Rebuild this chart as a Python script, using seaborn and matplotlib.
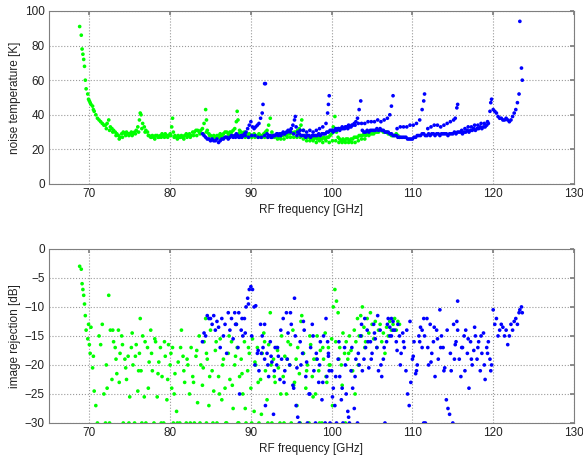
import matplotlib
matplotlib.use("Agg")
import matplotlib.pyplot as plt
import numpy as np
import pandas as pd
import seaborn as sns

# ---- measured data -------------------------------------------------------
# Green band: sweep A (fine steps) and sweep B (interleaved)
green_a_freq = [
    68.8, 69.0, 69.1, 69.2, 69.3, 69.4, 69.5, 69.6, 69.8, 69.9,
    70.0, 70.1, 70.2, 70.4, 70.5, 70.6, 70.8, 71.0, 71.2, 71.4,
    71.6, 71.8, 72.0, 72.2, 72.4, 72.6, 72.8, 73.0, 73.2, 73.4,
    73.6, 73.8, 74.0, 74.2, 74.4, 74.6, 74.8, 75.0, 75.2, 75.4,
    75.6, 75.8, 76.0, 76.2, 76.3, 76.4, 76.6, 76.8, 77.0, 77.2,
    77.4, 77.6, 77.8, 78.0, 78.2, 78.4, 78.6, 78.8, 79.0, 79.2,
    79.4, 79.6, 79.8, 80.0, 80.2, 80.3, 80.4, 80.6, 80.8, 81.0,
    81.2, 81.4, 81.6, 81.8, 82.0, 82.2, 82.4, 82.6, 82.8, 83.0,
    83.2, 83.4, 83.6, 83.8, 84.0, 84.2, 84.4, 84.5, 84.6, 84.8,
    85.0, 85.2, 85.4, 85.6, 85.8, 86.0, 86.2, 86.4, 86.6, 86.8,
    87.0, 87.2, 87.4, 87.6, 87.8, 88.0, 88.2, 88.3, 88.4, 88.6,
    88.8, 89.0, 89.2, 89.4, 89.6, 89.8, 90.0, 90.2, 90.4, 90.6,
    90.8, 91.0, 91.2, 91.4, 91.6, 91.8, 92.0, 92.2, 92.4, 92.6,
    92.8, 93.0, 93.2, 93.4, 93.6, 93.8, 94.0, 94.2, 94.4, 94.6,
    94.8, 95.0, 95.2, 95.4, 95.6, 95.8, 96.0, 96.2, 96.3, 96.5,
    96.8, 97.0, 97.2, 97.4, 97.6, 97.8, 98.0, 98.2, 98.4, 98.6,
    98.8, 99.0, 99.2, 99.4, 99.6, 99.8, 100.0, 100.2, 100.4, 100.6,
    100.8, 101.0, 101.2, 101.4, 101.6, 101.8, 102.0, 102.2, 102.4, 102.6,
    102.8, 103.0, 103.2, 103.4, 103.6, 103.8, 104.0, 104.2, 104.4, 104.6,
    104.8, 105.0, 105.2, 105.4, 105.6, 105.8, 106.0, 106.2, 106.4, 106.6,
    106.8, 107.0, 107.2, 107.4, 107.6, 107.8, 108.0, 108.2, 108.4,
]
green_a_tn = [
    91, 86, 78, 75, 72, 68, 60, 55, 52, 49,
    48, 47, 46, 45, 43, 42, 40, 38, 37, 36,
    35, 34, 34, 35, 37, 33, 32, 31, 30, 29,
    28, 27, 29, 30, 29, 30, 29, 29, 30, 29,
    30, 31, 33, 37, 41, 40, 35, 33, 31, 30,
    28, 27, 28, 27, 28, 28, 27, 28, 29, 28,
    29, 28, 28, 29, 33, 38, 30, 28, 27, 28,
    27, 28, 27, 28, 29, 28, 29, 28, 30, 30,
    31, 31, 30, 31, 32, 35, 43, 37, 31, 29,
    28, 27, 28, 27, 28, 28, 29, 28, 29, 30,
    30, 29, 30, 30, 31, 32, 36, 42, 37, 31,
    30, 29, 30, 29, 28, 29, 28, 28, 29, 28,
    28, 29, 28, 28, 29, 30, 31, 34, 38, 30,
    28, 28, 27, 28, 27, 28, 28, 29, 28, 29,
    29, 30, 29, 30, 30, 31, 32, 34, 37, 31,
    28, 27, 27, 26, 27, 26, 27, 26, 27, 26,
    26, 27, 26, 27, 27, 28, 29, 33, 39, 30,
    27, 26, 25, 26, 25, 26, 26, 25, 26, 26,
    27, 27, 27, 28, 28, 28, 29, 28, 29, 28,
    29, 29, 29, 30, 30, 30, 31, 31, 30, 30,
    30, 29, 29, 28, 28, 28, 29, 28, 27,
]
green_a_irr = [
    -3, -3.5, -6, -7, -8, -9.5, -11.5, -14, -15.5, -13,
    -16.5, -18, -13.5, -20.5, -18.5, -24.5, -27, -30, -15, -16.5,
    -13, -25, -30, -24, -8, -14, -22.5, -16, -17, -21.5,
    -14, -18, -15, -30, -19, -22.5, -18.5, -25.5, -17, -20,
    -30, -16.5, -24.5, -18, -12, -21, -15, -25.5, -30, -17,
    -19.5, -14, -21, -30, -16, -25.5, -19.5, -17, -22, -30,
    -18.5, -26, -16.5, -20, -24, -17, -30, -21.5, -28, -19.5,
    -30, -14, -18.5, -23, -30, -20, -25, -17, -22, -30,
    -18.5, -26.5, -15, -20, -23.5, -16, -12, -30, -19, -27,
    -14, -21, -24.5, -17.5, -30, -22, -15.5, -26, -19, -24,
    -30, -18, -22.5, -16, -27.5, -20, -13, -17, -30, -22,
    -19, -25, -16, -30, -21, -18, -24, -15.5, -28, -20,
    -17, -30, -22.5, -18, -14.5, -21, -26, -16.5, -11, -30,
    -19, -23, -17, -20.5, -30, -15, -22, -18.5, -25, -16,
    -20, -30, -14, -23, -19, -17, -21.5, -12.5, -11.5, -18,
    -24, -20, -30, -16.5, -22, -19, -25, -15, -21, -17.5,
    -30, -19, -14.5, -23, -17, -20, -15.5, -10, -7, -9,
    -11, -17, -20, -14.5, -18, -16, -19, -15, -17.5, -21,
    -14, -16, -12, -15, -11.5, -10, -13.5, -16, -12, -14.5,
    -11, -13, -15.5, -12.5, -17, -14, -13, -16, -14.5, -18,
    -13.5, -15, -12.5, -14, -13, -12, -14, -12.5, -13,
]

green_b_freq = [
    72.1, 72.5, 72.9, 73.3, 73.7, 74.1, 74.5, 74.9, 75.3, 75.7,
    76.1, 76.5, 76.9, 77.3, 77.7, 78.1, 78.5, 78.9, 79.3, 79.7,
    80.1, 80.5, 80.9, 81.3, 81.7, 82.1, 82.5, 82.9, 83.3, 83.7,
    84.1, 84.5, 84.9, 85.3, 85.7, 86.1, 86.5, 86.9, 87.3, 87.7,
    88.1, 88.5, 88.9, 89.3, 89.7, 90.1, 90.5, 90.9, 91.3, 91.7,
    92.1, 92.5, 92.9, 93.3, 93.7, 94.1, 94.5, 94.9, 95.3, 95.7,
    96.1, 96.5, 96.9, 97.3, 97.7, 98.1, 98.5, 98.9, 99.3, 99.7,
    100.1, 100.5, 100.9, 101.3, 101.7, 102.1, 102.5, 102.9, 103.3, 103.7,
    104.1,
]
green_b_tn = [
    32, 31, 30, 28, 26, 27, 28, 28, 28, 29,
    30, 32, 30, 28, 27, 26, 27, 27, 27, 27,
    28, 27, 26, 27, 26, 27, 27, 28, 28, 29,
    29, 30, 28, 26, 26, 27, 27, 27, 28, 28,
    28, 29, 28, 27, 27, 27, 27, 27, 27, 27,
    27, 28, 27, 26, 26, 26, 27, 27, 27, 27,
    27, 26, 25, 25, 25, 24, 25, 24, 25, 24,
    25, 25, 24, 24, 24, 24, 24, 24, 25, 26,
    26,
]
green_b_irr = [
    -20, -30, -14, -19, -23, -16.5, -20.5, -30, -14.5, -18.5,
    -21, -30, -16, -24, -18, -15.5, -21.5, -30, -16, -22.5,
    -18, -25, -30, -17, -21, -19, -30, -23, -17.5, -30,
    -20.5, -18, -22, -30, -16, -25, -20, -30, -15, -23.5,
    -18.5, -30, -21.5, -27.5, -17, -30, -19.5, -23, -28.5, -16,
    -30, -20, -22, -17.5, -25, -30, -19, -16.5, -23.5, -27,
    -30, -18, -21, -15, -25.5, -19, -30, -17, -22, -20,
    -27, -16, -19, -23.5, -30, -18, -21, -25, -20, -15,
    -17,
]

# Blue band: sweep C (fine steps) and sweep D (interleaved)
blue_c_freq = [
    84.0, 84.2, 84.4, 84.6, 84.8, 85.0, 85.2, 85.4, 85.6, 85.8,
    86.0, 86.2, 86.4, 86.6, 86.8, 87.0, 87.2, 87.4, 87.6, 87.8,
    88.0, 88.2, 88.4, 88.6, 88.8, 89.0, 89.2, 89.4, 89.6, 89.8,
    90.0, 90.2, 90.4, 90.6, 90.8, 91.0, 91.2, 91.4, 91.5, 91.7,
    91.8, 92.0, 92.2, 92.4, 92.6, 92.8, 93.0, 93.2, 93.4, 93.6,
    93.8, 94.0, 94.2, 94.4, 94.6, 94.8, 95.0, 95.2, 95.4, 95.5,
    95.6, 95.8, 96.0, 96.2, 96.4, 96.6, 96.8, 97.0, 97.2, 97.4,
    97.6, 97.8, 98.0, 98.2, 98.4, 98.6, 98.8, 99.0, 99.2, 99.4,
    99.6, 99.8, 100.0, 100.2, 100.4, 100.6, 100.8, 101.0, 101.2, 101.4,
    101.6, 101.8, 102.0, 102.2, 102.4, 102.6, 102.8, 103.0, 103.2, 103.4,
    103.6, 103.8, 104.0, 104.2, 104.4, 104.6, 104.8, 105.0, 105.2, 105.4,
    105.6, 105.8, 106.0, 106.2, 106.4, 106.6, 106.8, 107.0, 107.2, 107.4,
    107.6, 107.8, 108.0, 108.2, 108.4, 108.6, 108.8, 109.0, 109.2, 109.4,
    109.6, 109.8, 110.0, 110.2, 110.4, 110.6, 110.8, 111.0, 111.2, 111.4,
    111.6, 111.8, 112.0, 112.2, 112.4, 112.6, 112.8, 113.0, 113.2, 113.4,
    113.6, 113.8, 114.0, 114.2, 114.4, 114.6, 114.8, 115.0, 115.2, 115.4,
    115.6, 115.8, 116.0, 116.2, 116.4, 116.6, 116.8, 117.0, 117.2, 117.4,
    117.6, 117.8, 118.0, 118.2, 118.4, 118.6, 118.8, 119.0, 119.2, 119.4,
    119.6, 119.7, 119.8, 120.0, 120.2, 120.4, 120.6, 120.8, 121.0, 121.2,
    121.4, 121.6, 121.8, 122.0, 122.2, 122.4, 122.6, 122.8, 123.0, 123.2,
    123.3, 123.5, 123.6,
]
blue_c_tn = [
    29, 28, 27, 26, 26, 25, 26, 25, 25, 26,
    24, 25, 26, 26, 27, 27, 26, 27, 28, 27,
    28, 29, 28, 27, 28, 28, 29, 30, 32, 34,
    36, 33, 32, 33, 34, 35, 38, 41, 46, 58,
    58, 29, 28, 28, 27, 28, 28, 29, 28, 29,
    29, 30, 29, 30, 31, 31, 32, 34, 37, 39,
    33, 30, 29, 28, 28, 28, 27, 28, 28, 27,
    28, 28, 28, 28, 29, 28, 29, 29, 29, 30,
    30, 31, 31, 30, 31, 31, 32, 31, 32, 32,
    32, 33, 32, 33, 33, 34, 35, 36, 38, 43,
    48, 31, 30, 30, 31, 30, 31, 31, 31, 31,
    32, 31, 32, 31, 31, 30, 30, 30, 29, 29,
    28, 28, 28, 27, 27, 27, 27, 27, 27, 26,
    26, 26, 26, 27, 27, 28, 28, 28, 29, 29,
    28, 28, 29, 28, 29, 29, 28, 29, 29, 28,
    29, 29, 29, 29, 28, 29, 29, 29, 30, 29,
    30, 30, 30, 29, 30, 30, 31, 30, 31, 31,
    32, 31, 32, 32, 33, 32, 33, 33, 34, 35,
    42, 47, 49, 43, 42, 41, 39, 38, 38, 37,
    37, 38, 37, 36, 37, 39, 41, 43, 47, 52,
    94, 67, 60,
]
blue_c_irr = [
    -16, -14.5, -15, -11.5, -12, -12, -13, -11.5, -14, -12.5,
    -13.5, -17, -12, -15, -13, -18, -11, -14, -12, -15.5,
    -11, -13, -17, -25, -14, -15, -12, -10, -8.5, -7,
    -6.5, -7, -10, -9.8, -18, -21, -13, -15, -17, -19,
    -27, -18, -22, -16, -19.5, -28.5, -17, -20, -18.5, -22.5,
    -19, -12, -21, -11, -14.5, -20, -13, -23.5, -8.5, -15,
    -27, -29, -30, -20, -18, -14, -22, -30, -25, -17,
    -13, -21, -30, -19, -23, -16, -26, -15, -30, -22,
    -18, -30, -21, -24, -27, -30, -19, -22, -26, -30,
    -17, -25, -28, -30, -21, -24, -27.5, -19, -30, -20,
    -15, -21, -19, -17, -14, -20.5, -16, -18, -13, -15.5,
    -17, -21, -14, -22, -19, -30, -16, -12, -13.5, -15,
    -12.5, -14, -16, -13, -15, -18, -14.5, -17, -21, -25,
    -27, -23, -19, -16, -21.5, -20, -15, -13.5, -17, -30,
    -30, -12, -20, -13, -18, -16, -22, -14, -19, -10.5,
    -15, -17, -20.5, -26, -27.5, -28.5, -21, -30, -19, -16,
    -9, -19, -22, -17, -15, -14, -18, -24, -16, -20,
    -17.5, -15, -19, -16, -21, -18, -14.5, -22.5, -17, -16,
    -19, -21, -20, -10.5, -13, -12, -15, -14, -13, -13.5,
    -15, -14, -16.5, -15, -13, -14, -12.5, -12, -13, -11,
    -10.5, -10, -11,
]

blue_d_freq = [
    88.1, 88.5, 88.9, 89.3, 89.7, 90.1, 90.5, 90.9, 91.3, 91.7,
    92.1, 92.5, 92.9, 93.3, 93.7, 94.1, 94.5, 94.9, 95.3, 95.7,
    96.1, 96.5, 96.9, 97.3, 97.7, 98.1, 98.5, 98.9, 99.3, 99.5,
    99.6, 99.7, 100.1, 100.5, 100.9, 101.3, 101.7, 102.1, 102.5, 102.9,
    103.3, 103.7, 104.1, 104.5, 104.9, 105.3, 105.7, 106.1, 106.5, 106.9,
    107.2, 107.4, 107.6, 108.1, 108.5, 108.9, 109.3, 109.7, 110.1, 110.5,
    110.9, 111.2, 111.4, 111.5, 111.9, 112.3, 112.7, 113.1, 113.5, 113.9,
    114.3, 114.7, 115.1, 115.3, 115.5, 115.6, 116.1, 116.5, 116.9, 117.3,
    117.7, 118.1, 118.5, 118.9, 119.3,
]
blue_d_tn = [
    27, 27, 27, 28, 27, 28, 28, 27, 27, 28,
    27, 27, 28, 29, 28, 29, 30, 30, 29, 28,
    31, 31, 30, 31, 30, 31, 32, 33, 35, 41,
    46, 51, 31, 32, 32, 33, 33, 34, 34, 34,
    35, 35, 35, 36, 36, 36, 37, 36, 37, 38,
    40, 45, 51, 32, 33, 33, 33, 34, 34, 35,
    37, 43, 48, 52, 32, 33, 34, 34, 33, 34,
    35, 36, 37, 38, 44, 46, 31, 32, 33, 33,
    34, 34, 35, 35, 36,
]
blue_d_irr = [
    -13, -11, -12, -14.5, -9.5, -15, -20, -17.5, -18, -13,
    -20, -18.5, -21, -17, -14, -23, -19, -11, -24, -20.5,
    -16, -12.5, -19.5, -25, -15, -18, -20, -23, -12, -16,
    -18.5, -21, -25.5, -22, -16, -24, -20, -29, -17, -22,
    -18, -13, -12, -16, -19, -14.5, -11.5, -20, -17, -13,
    -15, -12, -14, -17.5, -20, -16, -14, -12.5, -18.5, -21,
    -16, -14, -12, -15, -17, -19.5, -13.5, -15.5, -17, -21,
    -14, -18, -13, -16.5, -12.5, -14, -17, -21, -15.5, -19,
    -13.5, -17, -15, -20, -18,
]

band_colors = {"green": "#00ff00", "blue": "#0000ff"}

# ---- assemble long-form table ---------------------------------------------
frames = []
for band, sweeps in [
    ("green", [(green_a_freq, green_a_tn, green_a_irr),
               (green_b_freq, green_b_tn, green_b_irr)]),
    ("blue", [(blue_c_freq, blue_c_tn, blue_c_irr),
              (blue_d_freq, blue_d_tn, blue_d_irr)]),
]:
    for f, t, r in sweeps:
        frames.append(pd.DataFrame({"freq": f, "tn": t, "irr": r, "band": band}))
df = pd.concat(frames, ignore_index=True)

# ---- style ----------------------------------------------------------------
sns.set_theme(style="white")
plt.rcParams["font.family"] = ["Liberation Sans", "DejaVu Sans"]
plt.rcParams["axes.edgecolor"] = "#7f7f7f"
plt.rcParams["axes.linewidth"] = 0.8

fig = plt.figure(figsize=(5.83, 4.57), dpi=100)
ax_top = fig.add_axes([0.084, 0.5974, 0.9005, 0.3786])
ax_bot = fig.add_axes([0.084, 0.0744, 0.9005, 0.381])

for ax, col, ylab, ylim, yticks in [
    (ax_top, "tn", "noise temperature [K]", (0, 100), np.arange(0, 101, 20)),
    (ax_bot, "irr", "image rejection [dB]", (-30, 0), np.arange(-30, 1, 5)),
]:
    sns.scatterplot(data=df, x="freq", y=col, hue="band", palette=band_colors,
                    hue_order=["green", "blue"], s=7, linewidth=0,
                    marker="o", legend=False, ax=ax, zorder=3, clip_on=True)
    ax.set_xlim(65, 130)
    ax.set_ylim(*ylim)
    ax.set_xticks(np.arange(70, 131, 10))
    ax.set_yticks(yticks)
    ax.set_xlabel("RF frequency [GHz]", fontsize=8.5, labelpad=3,
                  color="#222222")
    ax.set_ylabel(ylab, fontsize=8.5, labelpad=3, color="#222222")
    ax.grid(True, linestyle=":", color="#9a9a9a", linewidth=0.8)
    ax.tick_params(direction="in", length=3, labelsize=8.5, colors="#222222",
                   color="#7f7f7f", pad=3, top=True, right=True)
    for sp in ax.spines.values():
        sp.set_visible(True)
        sp.set_color("#7f7f7f")

fig.savefig("out.png", dpi=100)
